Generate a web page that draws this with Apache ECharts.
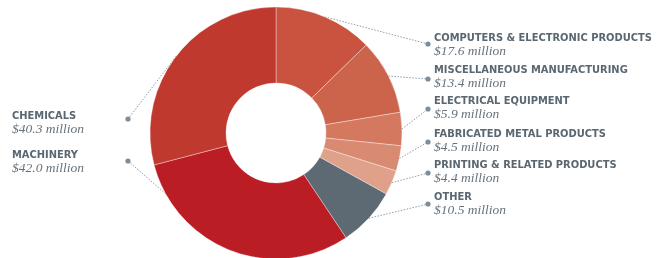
<!DOCTYPE html>
<html>
<head>
<meta charset="utf-8">
<script src="https://cdn.jsdelivr.net/npm/echarts@6/dist/echarts.min.js"></script>
<style>
  html, body { margin: 0; padding: 0; background: #fff; }
  #main { width: 661px; height: 258px; }
</style>
</head>
<body>
<div id="main"></div>
<script>
// 数据
var categories = ['COMPUTERS & ELECTRONIC PRODUCTS', 'MISCELLANEOUS MANUFACTURING', 'ELECTRICAL EQUIPMENT',
  'FABRICATED METAL PRODUCTS', 'PRINTING & RELATED PRODUCTS', 'OTHER', 'MACHINERY', 'CHEMICALS']
var values = [17.6, 13.4, 5.9, 4.5, 4.4, 10.5, 42.0, 40.3]
var valueLabels = ['$17.6 million', '$13.4 million', '$5.9 million', '$4.5 million',
  '$4.4 million', '$10.5 million', '$42.0 million', '$40.3 million']
var colors = ['#C9533F', '#CC644B', '#D4795F', '#D98A72', '#E0A18B', '#5D6A74', '#BB1D24', '#C0392F']

// 标签位置 (文字x, 文字中线y, 圆点x, 圆点y)
var labelPos = [
  [434, 45, 428, 44],
  [434, 77, 428, 79],
  [434, 108, 428, 109],
  [434, 141, 428, 142],
  [434, 172, 428, 173],
  [434, 204, 428, 204],
  [12, 162, 128, 161],
  [12, 123, 128, 119]
]

var pieData = categories.map(function (name, i) {
  return { name: name, value: values[i], itemStyle: { color: colors[i] } }
})

var chart = echarts.init(document.getElementById('main'))
chart.setOption({
  animation: false,
  graphic: labelPos.map(function (p) {
    return { type: 'circle', shape: { cx: p[2], cy: p[3], r: 2.6 }, style: { fill: '#7F8D98' }, z: 10 }
  }),
  series: [
    {
      type: 'pie',
      center: [276, 133],
      radius: [50, 126],
      startAngle: 90,
      clockwise: true,
      itemStyle: { borderColor: 'rgba(255,255,255,0.6)', borderWidth: 0.6 },
      label: {
        show: true,
        formatter: function (p) {
          return '{n|' + p.name + '}\n{v|' + valueLabels[p.dataIndex] + '}'
        },
        rich: {
          n: { fontFamily: '"DejaVu Sans Condensed", sans-serif', fontWeight: 'bold', fontSize: 11, color: '#5B6770', lineHeight: 13 },
          v: { fontFamily: '"Liberation Serif", serif', fontStyle: 'italic', fontSize: 13.5, color: '#66727C', lineHeight: 13 }
        }
      },
      labelLine: {
        show: true,
        lineStyle: { color: '#8E9DA8', width: 1, type: [1.5, 1.5] }
      },
      labelLayout: function (params) {
        var p = labelPos[params.dataIndex]
        var pts = params.labelLinePoints
        return {
          x: p[0],
          y: p[1],
          align: 'left',
          verticalAlign: 'middle',
          labelLinePoints: [pts[0], [p[2], p[3]]]
        }
      },
      emphasis: { disabled: true },
      data: pieData
    }
  ]
})
</script>
</body>
</html>
